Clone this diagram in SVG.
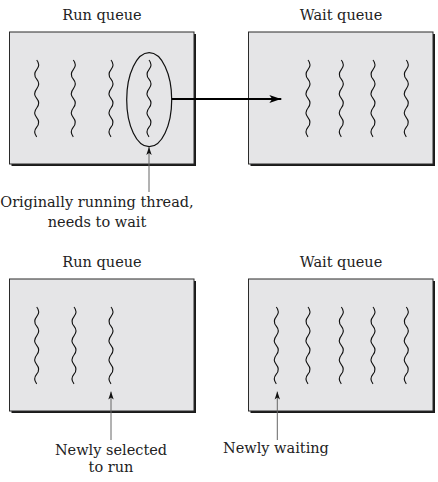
<svg xmlns="http://www.w3.org/2000/svg" xmlns:xlink="http://www.w3.org/1999/xlink" width="438" height="482" viewBox="0 0 438 482">
<style>
  text { font-family: "DejaVu Serif", "Liberation Serif", serif; font-size: 14.5px; fill: #222; }
  .box { fill: #e5e5e7; stroke: #2a2a2a; stroke-width: 1; }
  .shadow { fill: #1a1a1a; }
  .wave { fill: none; stroke: #111; stroke-width: 1.1; }
  .thin { stroke: #666; stroke-width: 1; fill: none; }
  .thick { stroke: #000; stroke-width: 2; fill: none; }
</style>
<defs>
  <path id="w" class="wave" d="M0,0 q4,4.8 0,9.6 t0,9.6 t0,9.6 t0,9.6 t0,9.6 t0,9.6 t0,9.6 t0,9.6"/>
  <marker id="bigHead" markerUnits="userSpaceOnUse" markerWidth="12" markerHeight="8" refX="12" refY="4" orient="auto">
    <path d="M0,0 L12,4 L0,8 L3,4 z" fill="#000"/>
  </marker>
  <marker id="smallHead" markerUnits="userSpaceOnUse" markerWidth="8" markerHeight="6" refX="8" refY="3" orient="auto">
    <path d="M0,0.3 L8,3 L0,5.7 L2,3 z" fill="#111"/>
  </marker>
</defs>

<g id="run-queue-before">
  <text x="102" y="19.5" text-anchor="middle">Run queue</text>
  <rect class="shadow" x="11.5" y="34" width="184.5" height="132"/>
  <rect class="box" x="9.5" y="32" width="184.5" height="132"/>
  <use xlink:href="#w" x="36.7" y="60"/>
  <use xlink:href="#w" x="73.3" y="60"/>
  <use xlink:href="#w" x="111" y="60"/>
  <use xlink:href="#w" x="149" y="60"/>
  <ellipse cx="149.2" cy="99.7" rx="22.5" ry="47" fill="none" stroke="#111" stroke-width="1.2"/>
</g>

<g id="wait-queue-before">
  <text x="341" y="19.5" text-anchor="middle">Wait queue</text>
  <rect class="shadow" x="250.5" y="34" width="184.5" height="132"/>
  <rect class="box" x="248.5" y="32" width="184.5" height="132"/>
  <use xlink:href="#w" x="308" y="60"/>
  <use xlink:href="#w" x="341.3" y="60"/>
  <use xlink:href="#w" x="373" y="60"/>
  <use xlink:href="#w" x="406.3" y="60"/>
</g>

<g id="label-original">
  <text x="97" y="207" text-anchor="middle">Originally running thread,</text>
  <text x="97" y="227" text-anchor="middle">needs to wait</text>
</g>

<g id="run-queue-after">
  <text x="102" y="266.7" text-anchor="middle">Run queue</text>
  <rect class="shadow" x="11.5" y="281" width="184.5" height="132"/>
  <rect class="box" x="9.5" y="279" width="184.5" height="132"/>
  <use xlink:href="#w" x="36.7" y="307"/>
  <use xlink:href="#w" x="74" y="307"/>
  <use xlink:href="#w" x="111" y="307"/>
</g>

<g id="wait-queue-after">
  <text x="341" y="266.7" text-anchor="middle">Wait queue</text>
  <rect class="shadow" x="250.5" y="281" width="184.5" height="132"/>
  <rect class="box" x="248.5" y="279" width="184.5" height="132"/>
  <use xlink:href="#w" x="276.3" y="307"/>
  <use xlink:href="#w" x="308" y="307"/>
  <use xlink:href="#w" x="341.3" y="307"/>
  <use xlink:href="#w" x="373" y="307"/>
  <use xlink:href="#w" x="406.3" y="307"/>
</g>

<g id="label-selected">
  <text x="111" y="455" text-anchor="middle">Newly selected</text>
  <text x="111" y="471.5" text-anchor="middle">to run</text>
</g>

<g id="label-waiting">
  <text x="223" y="453">Newly waiting</text>
</g>

<g id="connectors">
  <line class="thick" x1="171.7" y1="99" x2="281.3" y2="99" marker-end="url(#bigHead)"/>
  <line class="thin" x1="149" y1="192" x2="149" y2="147" marker-end="url(#smallHead)"/>
  <line class="thin" x1="111" y1="440" x2="111" y2="391.5" marker-end="url(#smallHead)"/>
  <line class="thin" x1="277.3" y1="440" x2="277.3" y2="391.5" marker-end="url(#smallHead)"/>
</g>
</svg>
